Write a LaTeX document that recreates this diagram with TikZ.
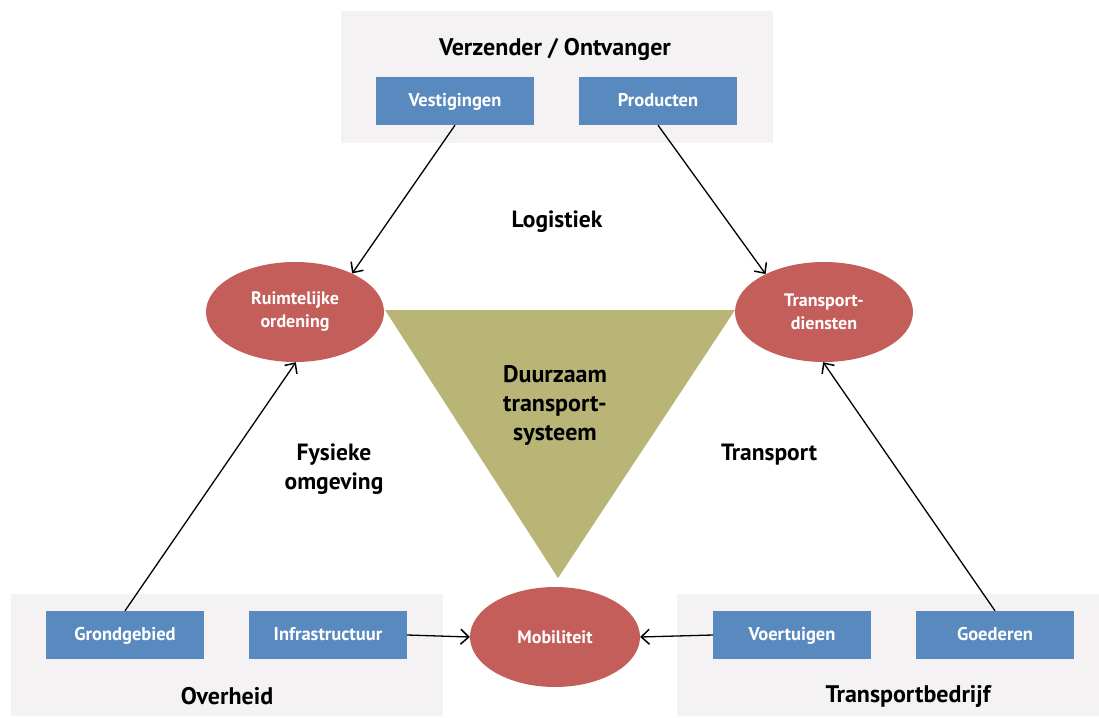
\documentclass[tikz,border=0pt]{standalone}
\usepackage{fontspec}
\setmainfont{PT Sans}
\usetikzlibrary{arrows.meta,shapes.geometric}
\definecolor{panelgray}{HTML}{F4F2F3}
\definecolor{boxblue}{HTML}{5889BF}
\definecolor{ellred}{HTML}{C45E5B}
\definecolor{olive}{HTML}{B8B577}
\tikzset{
  panel/.style={fill=panelgray, draw=none},
  bluebox/.style={fill=boxblue, draw=none, minimum width=158pt, minimum height=48pt,
    text=white, font=\fontsize{18.5}{20}\selectfont\bfseries, inner sep=0pt,
    text height=10pt, text depth=0pt},
  redell/.style={ellipse, fill=ellred, draw=none, minimum width=178pt, minimum height=100pt,
    text=white, align=center, font=\fontsize{18}{23}\selectfont\bfseries, inner sep=0pt},
  title/.style={font=\fontsize{24}{26}\selectfont\bfseries, text=black},
  label/.style={font=\fontsize{23.5}{29}\selectfont\bfseries, text=black, align=center},
  arr/.style={draw=black, line width=1.3pt, -{Straight Barb[length=8pt, width=15pt, line width=1.5pt]}},
}
\begin{document}
\begin{tikzpicture}[x=1pt, y=-1pt]
\useasboundingbox (0,0) rectangle (1099,717);
\fill[white] (0,0) rectangle (1099,717);

% grey panels
\fill[panel] (341,11) rectangle (773,143);
\fill[panel] (11,594) rectangle (443,716);
\fill[panel] (677,594) rectangle (1099,716);

% central triangle
\fill[olive] (385,310) -- (735,310) -- (558,578) -- cycle;
\node[label, font=\fontsize{24}{29}\selectfont\bfseries] (duur) at (555,405) {Duurzaam\\transport-\\systeem};

% panel titles
\node[title] (verz) at (555,49) {Verzender / Ontvanger};
\node[title] (overh) at (227,696) {Overheid};
\node[title] (tbed) at (908,696) {Transportbedrijf};

% blue boxes
\node[bluebox] (vest) at (455,101) {Vestigingen};
\node[bluebox] (prod) at (658,101) {Producten};
\node[bluebox] (grond) at (125,635) {Grondgebied};
\node[bluebox] (infra) at (328,635) {Infrastructuur};
\node[bluebox] (voert) at (792,635) {Voertuigen};
\node[bluebox] (goed) at (995,635) {Goederen};

% red ellipses
\node[redell] (ruim) at (295,312) {Ruimtelijke\\ordening};
\node[redell] (tdien) at (824,312) {Transport-\\diensten};
\node[redell, minimum width=170pt] (mob) at (555,637) {Mobiliteit};

% side labels
\node[label] (logi) at (557,222) {Logistiek};
\node[label] (fysi) at (334,469) {Fysieke\\omgeving};
\node[label] (trans) at (769,455) {Transport};

% connectors
\draw[arr] (vest.south) -- (ruim.34);
\draw[arr] (prod.south) -- (tdien.147);
\draw[arr] (grond.north) -- (ruim.-89);
\draw[arr] (goed.north) -- (tdien.-91);
\draw[arr] (infra.east) -- (mob.west);
\draw[arr] (voert.west) -- (mob.east);
\end{tikzpicture}
\end{document}
